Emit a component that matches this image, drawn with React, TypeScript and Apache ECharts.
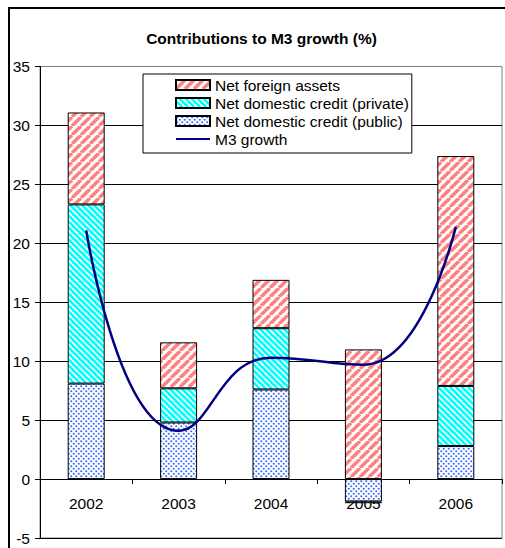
import React, { useEffect, useRef } from "react";
import * as echarts from "echarts";

const categories = ["2002", "2003", "2004", "2005", "2006"];
const netForeignAssets = [7.8, 3.9, 4.1, 11.0, 19.5];
const netCreditPrivate = [15.2, 2.9, 5.2, -0.15, 5.1];
const netCreditPublic = [8.1, 4.8, 7.6, -1.9, 2.8];
const m3Growth = [21.1, 4.1, 10.3, 9.7, 21.4];
const yTicks = { min: -5, max: 35, interval: 5 };

const NAMES = {
  nfa: "Net foreign assets",
  priv: "Net domestic credit (private)",
  pub: "Net domestic credit (public)",
  m3: "M3 growth",
};

function stripe(size: number, bg: string, fg: string, lw: number, dir: "/" | "\\") {
  const c = document.createElement("canvas");
  c.width = size;
  c.height = size;
  const ctx = c.getContext("2d")!;
  ctx.fillStyle = bg;
  ctx.fillRect(0, 0, size, size);
  ctx.strokeStyle = fg;
  ctx.lineWidth = lw;
  ctx.beginPath();
  for (const k of [-size, 0, size]) {
    if (dir === "/") {
      ctx.moveTo(k, size);
      ctx.lineTo(k + size, 0);
    } else {
      ctx.moveTo(k, 0);
      ctx.lineTo(k + size, size);
    }
  }
  ctx.stroke();
  return { image: c.toDataURL(), repeat: "repeat", imageWidth: size, imageHeight: size };
}

function dots(size: number, bg: string, fg: string, r: number) {
  const c = document.createElement("canvas");
  c.width = size;
  c.height = size;
  const ctx = c.getContext("2d")!;
  ctx.fillStyle = bg;
  ctx.fillRect(0, 0, size, size);
  ctx.fillStyle = fg;
  for (const [x, y] of [
    [size / 4, size / 4],
    [(3 * size) / 4, (3 * size) / 4],
  ]) {
    ctx.beginPath();
    ctx.arc(x, y, r, 0, Math.PI * 2);
    ctx.fill();
  }
  return { image: c.toDataURL(), repeat: "repeat", imageWidth: size, imageHeight: size };
}

export default function App() {
  const ref = useRef<HTMLDivElement>(null);
  useEffect(() => {
    if (!ref.current) return;
    const chart = echarts.init(ref.current, undefined, { renderer: "svg" });
    const nfaFill = stripe(9, "#ffffff", "#FF8080", 3.5, "/");
    const privFill = stripe(6, "#00FFFF", "#ffffff", 1.6, "\\");
    const pubFill = dots(5, "#ffffff", "#3D6EFF", 1.1);
    const font = "'Liberation Sans', Arial, sans-serif";
    const fs = 15.5;
    const gridTop = 66.5;
    const gridBottom = 10;
    const plotH = 548 - gridTop - gridBottom;
    const zeroOffset = -(plotH * (0 - yTicks.min)) / (yTicks.max - yTicks.min);
    const barCommon = {
      type: "bar",
      stack: "total",
      barWidth: 37,
      itemStyle: { borderColor: "#000", borderWidth: 1 },
    };
    chart.setOption({
      animation: false,
      textStyle: { fontFamily: font },
      grid: {
        left: 40,
        right: 3,
        top: gridTop,
        bottom: gridBottom,
        containLabel: false,
        outerBoundsMode: "none",
        show: true,
        borderColor: "#808080",
        borderWidth: 1,
        backgroundColor: "transparent",
      },
      legend: {
        left: 143,
        top: 74,
        orient: "vertical",
        backgroundColor: "#fff",
        borderColor: "#000",
        borderWidth: 1,
        borderRadius: 0,
        padding: [3, 3, 6, 32],
        itemGap: 2,
        itemWidth: 34,
        itemHeight: 10,
        textStyle: { fontFamily: font, fontSize: fs, color: "#000" },
        data: [
          { name: NAMES.nfa, icon: "rect" },
          { name: NAMES.priv, icon: "rect" },
          { name: NAMES.pub, icon: "rect" },
          { name: NAMES.m3, itemStyle: { opacity: 0, color: "transparent", borderWidth: 0 } },
        ],
        selectedMode: false,
      },
      xAxis: {
        type: "category",
        data: categories,
        position: "bottom",
        offset: zeroOffset,
        axisLine: { onZero: false, lineStyle: { color: "#000", width: 1 } },
        axisTick: { show: true, length: 5, lineStyle: { color: "#000" } },
        axisLabel: { fontFamily: font, fontSize: fs, color: "#000", margin: 16 },
        splitLine: { show: false },
      },
      yAxis: {
        type: "value",
        min: yTicks.min,
        max: yTicks.max,
        interval: yTicks.interval,
        axisLine: { show: true, onZero: false, lineStyle: { color: "#000", width: 1 } },
        axisTick: { show: true, length: 5, lineStyle: { color: "#000" } },
        axisLabel: { fontFamily: font, fontSize: fs, color: "#000", margin: 10 },
        splitLine: {
          show: true,
          lineStyle: {
            color: ["#000", "#000", "#000", "#000", "#000", "#000", "#000", "#000", "#808080"],
            width: 1,
          },
        },
      },
      series: [
        { ...barCommon, name: NAMES.pub, data: netCreditPublic, itemStyle: { ...barCommon.itemStyle, color: pubFill } },
        { ...barCommon, name: NAMES.priv, data: netCreditPrivate, itemStyle: { ...barCommon.itemStyle, color: privFill } },
        { ...barCommon, name: NAMES.nfa, data: netForeignAssets, itemStyle: { ...barCommon.itemStyle, color: nfaFill } },
        {
          type: "line",
          name: NAMES.m3,
          data: m3Growth,
          smooth: 0.5,
          symbol: "none",
          showSymbol: false,
          z: 5,
          itemStyle: { color: "#000080" },
          lineStyle: { color: "#000080", width: 2.5 },
        },
      ],
      graphic: [
        {
          type: "rect",
          shape: { x: 9, y: 8, width: 620, height: 620 },
          style: { fill: "none", stroke: "#000", lineWidth: 2 },
          silent: true,
          z: 0,
        },
        {
          type: "text",
          x: 261.5,
          y: 38,
          style: {
            text: "Contributions to M3 growth (%)",
            fontFamily: font,
            fontSize: fs,
            fontWeight: "bold",
            fill: "#000",
            align: "center",
            verticalAlign: "middle",
          },
        },
      ],
    });
    return () => chart.dispose();
  }, []);
  return (
    <div
      ref={ref}
      style={{ position: "fixed", left: 0, top: 0, width: 505, height: 548, background: "#fff" }}
    />
  );
}
